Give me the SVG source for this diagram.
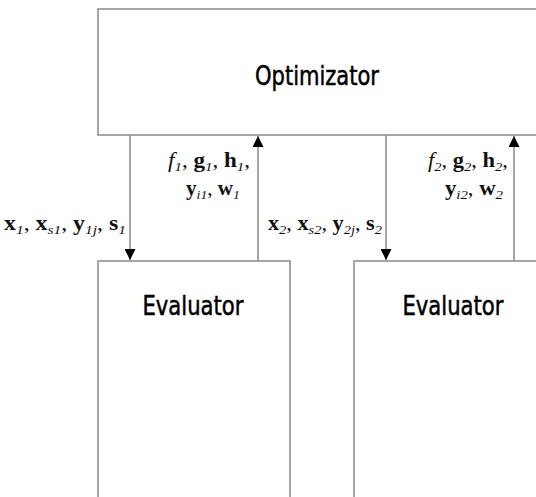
<svg xmlns="http://www.w3.org/2000/svg" width="536" height="497" viewBox="0 0 536 497">
<style>
.box{fill:#fff;stroke:#8a8a8a;stroke-width:1.5}
.conn{stroke:#8a8a8a;stroke-width:1.5;fill:none}
.title{font-family:"DejaVu Sans Condensed","Liberation Sans Narrow","DejaVu Sans",sans-serif;font-size:27px;fill:#000;stroke:#000;stroke-width:0.5;text-anchor:middle}
.lbl{font-family:"Liberation Serif",serif;font-size:20px;fill:#111}
.b{font-weight:bold}
.i{font-style:italic}
.s{font-style:italic;font-size:13px}
</style>
<defs>
<marker id="ah" viewBox="0 0 10 10" refX="10" refY="5" markerWidth="11" markerHeight="11" markerUnits="userSpaceOnUse" orient="auto">
<path d="M0,0 L10,5 L0,10 Z" fill="#000"/>
</marker>
</defs>
<rect width="536" height="497" fill="#fff"/>
<g id="optimizator">
<rect class="box" x="98" y="9" width="440" height="126"/>
<text class="title" x="317" y="85" textLength="124" lengthAdjust="spacingAndGlyphs">Optimizator</text>
</g>
<g id="evaluator1">
<rect class="box" x="98" y="261" width="192" height="240"/>
<text class="title" x="193" y="315" textLength="101" lengthAdjust="spacingAndGlyphs">Evaluator</text>
</g>
<g id="evaluator2">
<rect class="box" x="354" y="261" width="186" height="240"/>
<text class="title" x="453" y="315" textLength="101" lengthAdjust="spacingAndGlyphs">Evaluator</text>
</g>
<g id="connectors">
<line class="conn" x1="130" y1="135" x2="130" y2="260" marker-end="url(#ah)"/>
<line class="conn" x1="258" y1="261" x2="258" y2="136" marker-end="url(#ah)"/>
<line class="conn" x1="386" y1="135" x2="386" y2="260" marker-end="url(#ah)"/>
<line class="conn" x1="514" y1="261" x2="514" y2="136" marker-end="url(#ah)"/>
</g>
<g id="labels">
<text class="lbl" x="4" y="230" textLength="122" lengthAdjust="spacingAndGlyphs"><tspan class="b">x</tspan><tspan class="s" dy="4">1</tspan><tspan dy="-4">, </tspan><tspan class="b">x</tspan><tspan class="s" dy="4">s1</tspan><tspan dy="-4">, </tspan><tspan class="b">y</tspan><tspan class="s" dy="4">1j</tspan><tspan dy="-4">, </tspan><tspan class="b">s</tspan><tspan class="s" dy="4">1</tspan></text>
<text class="lbl" x="168" y="167" textLength="82" lengthAdjust="spacingAndGlyphs"><tspan class="i">f</tspan><tspan class="s" dy="4">1</tspan><tspan dy="-4">, </tspan><tspan class="b">g</tspan><tspan class="s" dy="4">1</tspan><tspan dy="-4">, </tspan><tspan class="b">h</tspan><tspan class="s" dy="4">1</tspan><tspan dy="-4">,</tspan></text>
<text class="lbl" x="186" y="195" textLength="54" lengthAdjust="spacingAndGlyphs"><tspan class="b">y</tspan><tspan class="s" dy="4">i1</tspan><tspan dy="-4">, </tspan><tspan class="b">w</tspan><tspan class="s" dy="4">1</tspan></text>
<text class="lbl" x="268" y="230" textLength="114" lengthAdjust="spacingAndGlyphs"><tspan class="b">x</tspan><tspan class="s" dy="4">2</tspan><tspan dy="-4">, </tspan><tspan class="b">x</tspan><tspan class="s" dy="4">s2</tspan><tspan dy="-4">, </tspan><tspan class="b">y</tspan><tspan class="s" dy="4">2j</tspan><tspan dy="-4">, </tspan><tspan class="b">s</tspan><tspan class="s" dy="4">2</tspan></text>
<text class="lbl" x="428" y="167" textLength="80" lengthAdjust="spacingAndGlyphs"><tspan class="i">f</tspan><tspan class="s" dy="4">2</tspan><tspan dy="-4">, </tspan><tspan class="b">g</tspan><tspan class="s" dy="4">2</tspan><tspan dy="-4">, </tspan><tspan class="b">h</tspan><tspan class="s" dy="4">2</tspan><tspan dy="-4">,</tspan></text>
<text class="lbl" x="445" y="195" textLength="58" lengthAdjust="spacingAndGlyphs"><tspan class="b">y</tspan><tspan class="s" dy="4">i2</tspan><tspan dy="-4">, </tspan><tspan class="b">w</tspan><tspan class="s" dy="4">2</tspan></text>
</g>
</svg>
